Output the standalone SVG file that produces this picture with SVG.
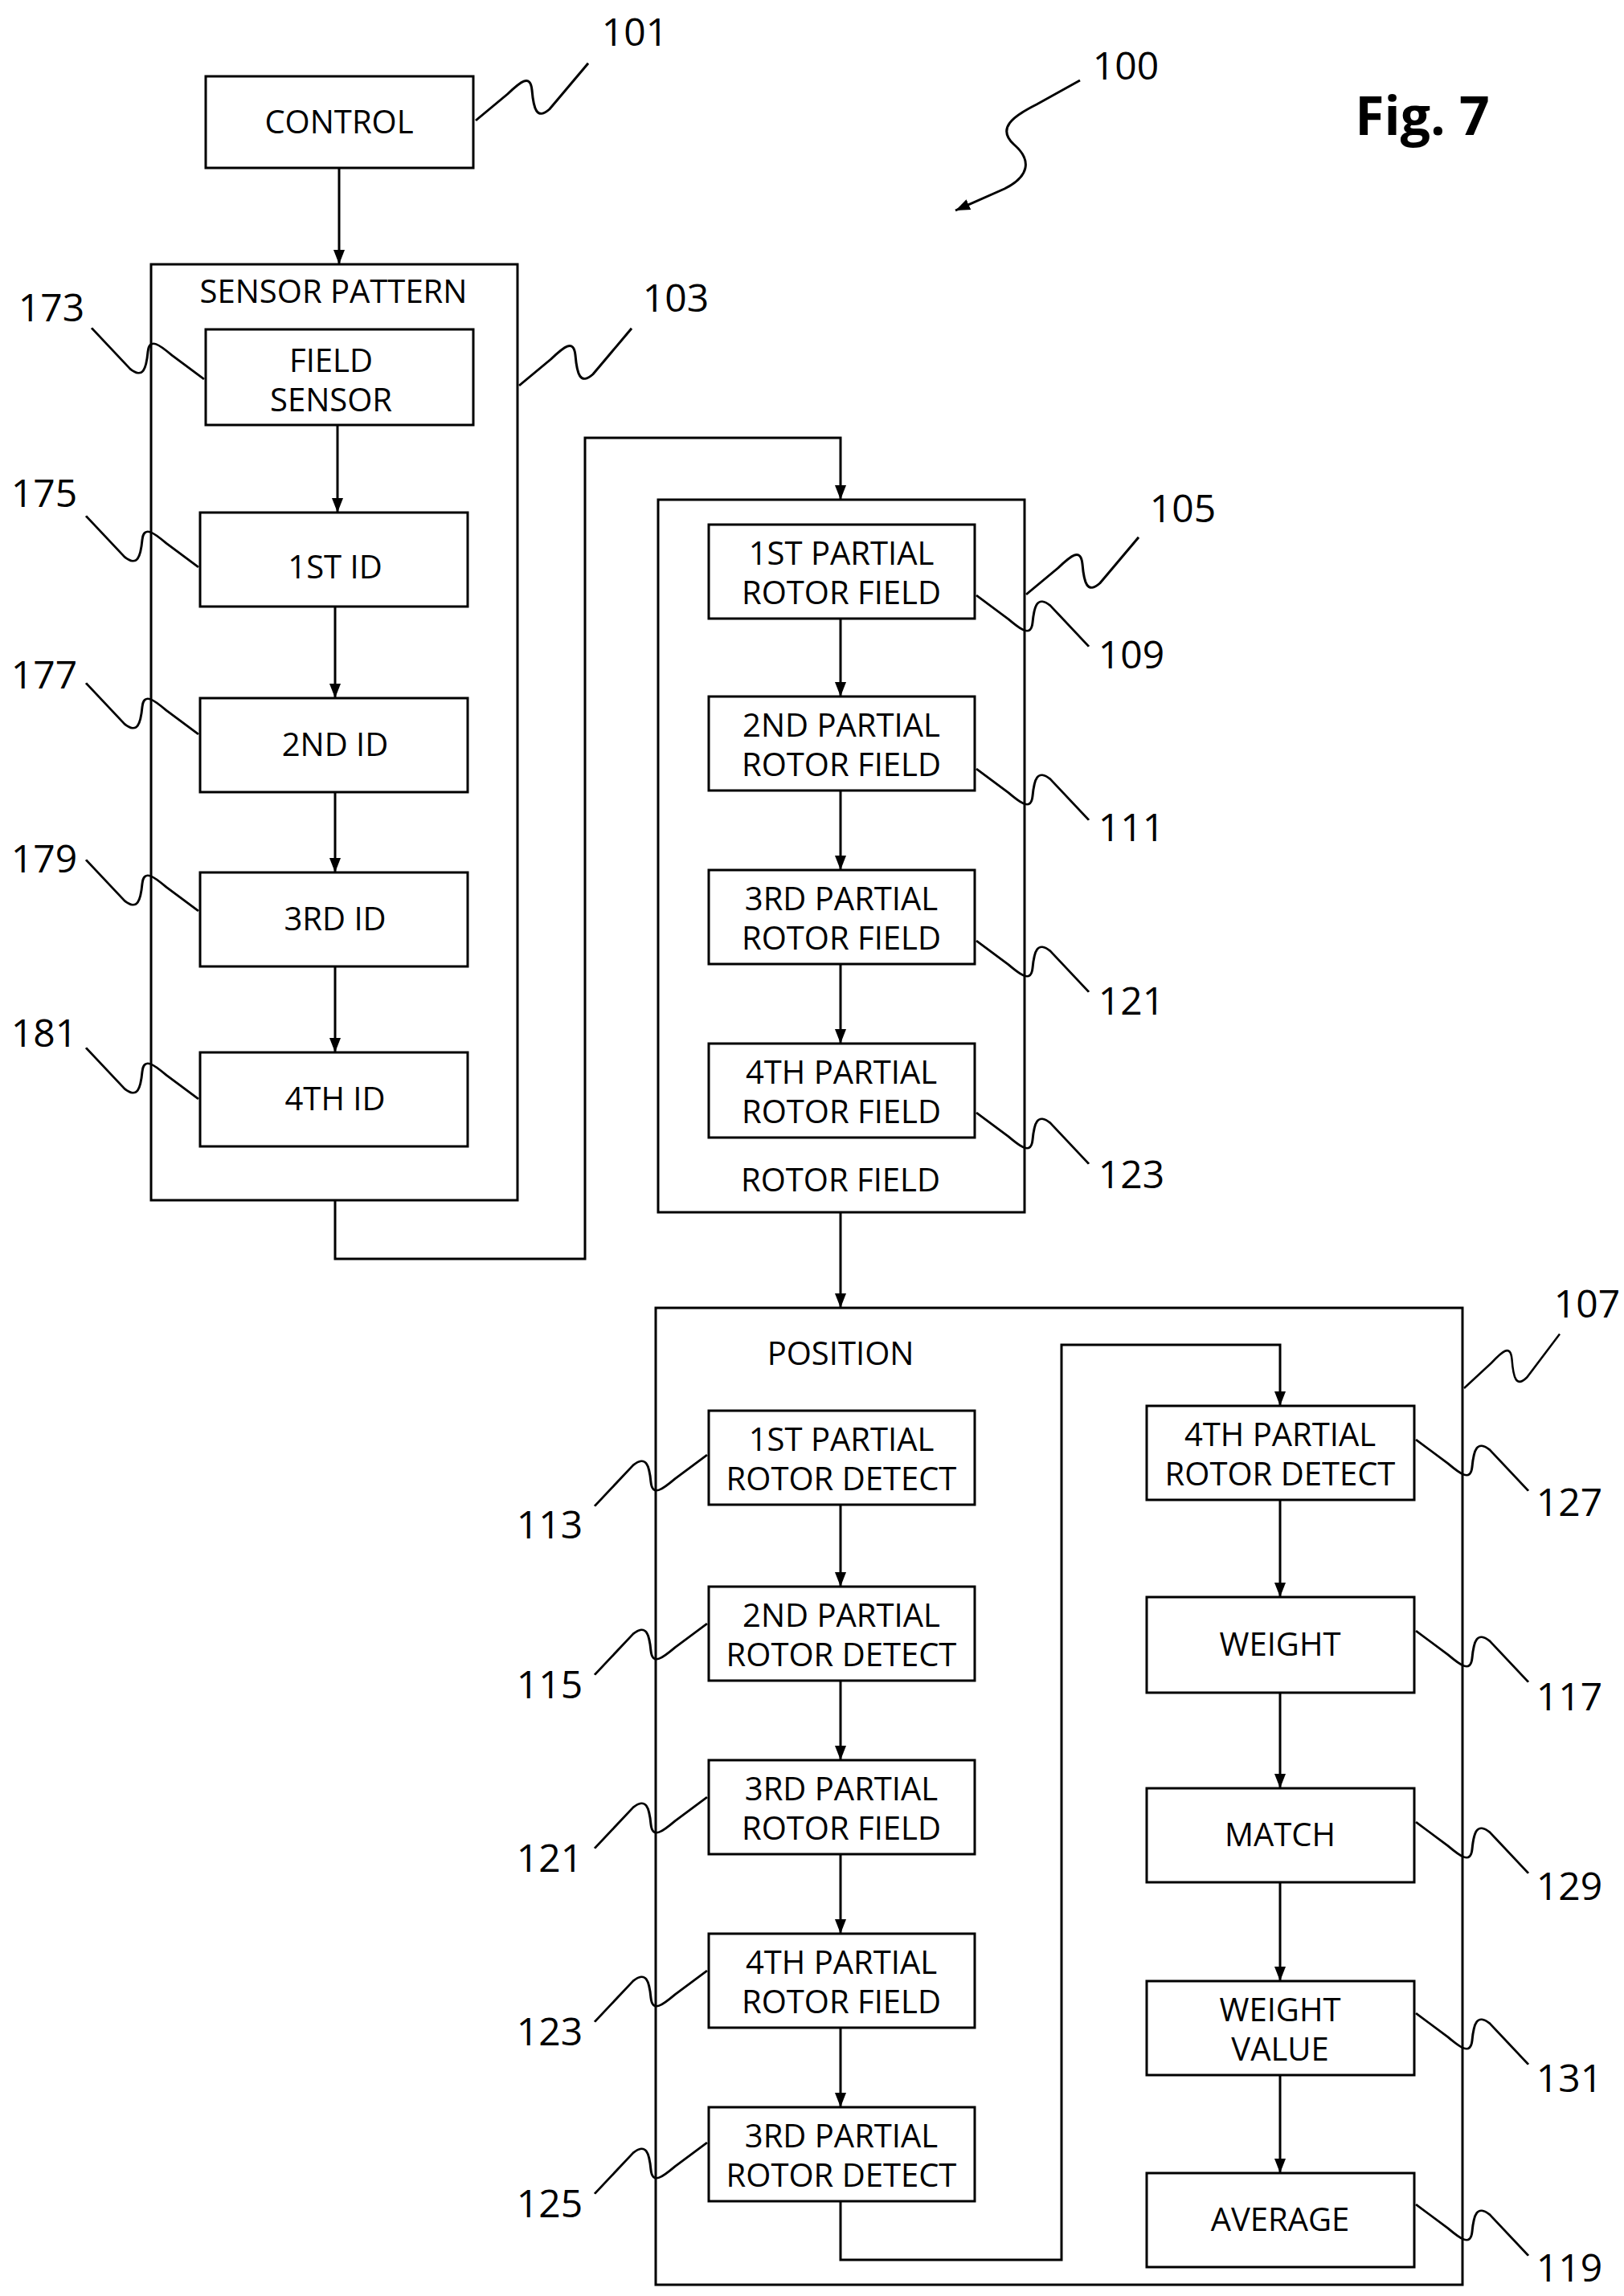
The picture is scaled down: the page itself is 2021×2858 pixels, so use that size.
<svg xmlns="http://www.w3.org/2000/svg" xmlns:xlink="http://www.w3.org/1999/xlink" width="2021" height="2858" viewBox="0 0 2021 2858">
<style>
.b{fill:#fff;stroke:#000;stroke-width:3}
.t{font-family:"Open Sans","Liberation Sans",sans-serif;font-size:40px;text-anchor:middle;fill:#000}
.n{font-family:"Open Sans","Liberation Sans",sans-serif;font-size:48px;text-anchor:middle;fill:#000}
.c{fill:none;stroke:#000;stroke-width:3}
.s{fill:none;stroke:#000;stroke-width:3}
</style>
<defs>
<marker id="ah" markerWidth="20" markerHeight="20" refX="18" refY="10" orient="auto" markerUnits="userSpaceOnUse"><path d="M0,3 L18,10 L0,17 z" fill="#000"/></marker>
<path id="sq" d="M0,0 L40,-35 C55,-50 68,-62 70,-40 C72,-15 76,0 92,-15 L140,-75"/>
</defs>
<text x="1770" y="168" style="font-family:'Open Sans','Liberation Sans',sans-serif;font-size:66px;font-weight:bold;text-anchor:middle">Fig. 7</text>
<g id="n101"><rect class="b" x="256" y="95" width="333" height="114"/><text class="t" x="422" y="166">CONTROL</text></g>
<g id="n103"><rect class="b" x="188" y="329" width="456" height="1165"/><text class="t" x="415" y="377">SENSOR PATTERN</text></g>
<g id="n173"><rect class="b" x="256" y="410" width="333" height="119"/><text class="t" x="412" y="463">FIELD</text><text class="t" x="412" y="512">SENSOR</text></g>
<g id="n175"><rect class="b" x="249" y="638" width="333" height="117"/><text class="t" x="417" y="720">1ST ID</text></g>
<g id="n177"><rect class="b" x="249" y="869" width="333" height="117"/><text class="t" x="417" y="941">2ND ID</text></g>
<g id="n179"><rect class="b" x="249" y="1086" width="333" height="117"/><text class="t" x="417" y="1158">3RD ID</text></g>
<g id="n181"><rect class="b" x="249" y="1310" width="333" height="117"/><text class="t" x="417" y="1382">4TH ID</text></g>
<g id="n105"><rect class="b" x="819" y="622" width="456" height="887"/><text class="t" x="1046" y="1483">ROTOR FIELD</text></g>
<g id="n109"><rect class="b" x="882" y="653" width="331" height="117"/><text class="t" x="1047" y="703">1ST PARTIAL</text><text class="t" x="1047" y="752">ROTOR FIELD</text></g>
<g id="n111"><rect class="b" x="882" y="867" width="331" height="117"/><text class="t" x="1047" y="917">2ND PARTIAL</text><text class="t" x="1047" y="966">ROTOR FIELD</text></g>
<g id="n121a"><rect class="b" x="882" y="1083" width="331" height="117"/><text class="t" x="1047" y="1133">3RD PARTIAL</text><text class="t" x="1047" y="1182">ROTOR FIELD</text></g>
<g id="n123a"><rect class="b" x="882" y="1299" width="331" height="117"/><text class="t" x="1047" y="1349">4TH PARTIAL</text><text class="t" x="1047" y="1398">ROTOR FIELD</text></g>
<g id="n107"><rect class="b" x="816" y="1628" width="1004" height="1216"/><text class="t" x="1046" y="1699">POSITION</text></g>
<g id="n113"><rect class="b" x="882" y="1756" width="331" height="117"/><text class="t" x="1047" y="1806">1ST PARTIAL</text><text class="t" x="1047" y="1855">ROTOR DETECT</text></g>
<g id="n115"><rect class="b" x="882" y="1975" width="331" height="117"/><text class="t" x="1047" y="2025">2ND PARTIAL</text><text class="t" x="1047" y="2074">ROTOR DETECT</text></g>
<g id="n121b"><rect class="b" x="882" y="2191" width="331" height="117"/><text class="t" x="1047" y="2241">3RD PARTIAL</text><text class="t" x="1047" y="2290">ROTOR FIELD</text></g>
<g id="n123b"><rect class="b" x="882" y="2407" width="331" height="117"/><text class="t" x="1047" y="2457">4TH PARTIAL</text><text class="t" x="1047" y="2506">ROTOR FIELD</text></g>
<g id="n125"><rect class="b" x="882" y="2623" width="331" height="117"/><text class="t" x="1047" y="2673">3RD PARTIAL</text><text class="t" x="1047" y="2722">ROTOR DETECT</text></g>
<g id="n127"><rect class="b" x="1427" y="1750" width="333" height="117"/><text class="t" x="1593" y="1800">4TH PARTIAL</text><text class="t" x="1593" y="1849">ROTOR DETECT</text></g>
<g id="n117"><rect class="b" x="1427" y="1988" width="333" height="119"/><text class="t" x="1593" y="2061">WEIGHT</text></g>
<g id="n129"><rect class="b" x="1427" y="2226" width="333" height="117"/><text class="t" x="1593" y="2298">MATCH</text></g>
<g id="n131"><rect class="b" x="1427" y="2466" width="333" height="117"/><text class="t" x="1593" y="2516">WEIGHT</text><text class="t" x="1593" y="2565">VALUE</text></g>
<g id="n119"><rect class="b" x="1427" y="2705" width="333" height="117"/><text class="t" x="1593" y="2777">AVERAGE</text></g>
<g id="connectors" class="c">
<path marker-end="url(#ah)" d="M422,209 V329"/>
<path marker-end="url(#ah)" d="M420,529 V638"/>
<path marker-end="url(#ah)" d="M417,755 V869"/>
<path marker-end="url(#ah)" d="M417,986 V1086"/>
<path marker-end="url(#ah)" d="M417,1203 V1310"/>
<path marker-end="url(#ah)" d="M417,1494 V1567 H728 V545 H1046 V622"/>
<path marker-end="url(#ah)" d="M1046,770 V867"/>
<path marker-end="url(#ah)" d="M1046,984 V1083"/>
<path marker-end="url(#ah)" d="M1046,1200 V1299"/>
<path marker-end="url(#ah)" d="M1046,1509 V1628"/>
<path marker-end="url(#ah)" d="M1046,1873 V1975"/>
<path marker-end="url(#ah)" d="M1046,2092 V2191"/>
<path marker-end="url(#ah)" d="M1046,2308 V2407"/>
<path marker-end="url(#ah)" d="M1046,2524 V2623"/>
<path marker-end="url(#ah)" d="M1046,2740 V2813 H1321 V1674 H1593 V1750"/>
<path marker-end="url(#ah)" d="M1593,1867 V1988"/>
<path marker-end="url(#ah)" d="M1593,2107 V2226"/>
<path marker-end="url(#ah)" d="M1593,2343 V2466"/>
<path marker-end="url(#ah)" d="M1593,2583 V2705"/>
</g>
<g id="labels" class="s">
<use xlink:href="#sq" transform="translate(592,150) scale(1,0.95)"/>
<use xlink:href="#sq" transform="translate(646,480) scale(1,0.95)"/>
<use xlink:href="#sq" transform="translate(1277,740) scale(1,0.95)"/>
<use xlink:href="#sq" transform="translate(1822,1728) scale(0.85,0.9)"/>
<path marker-end="url(#ah)" d="M1344,100 L1290,130 C1260,145 1240,160 1262,180 C1285,200 1280,220 1250,235 L1189,262"/>
<use xlink:href="#sq" transform="translate(254,472) scale(-1,0.85)"/>
<use xlink:href="#sq" transform="translate(247,706) scale(-1,0.85)"/>
<use xlink:href="#sq" transform="translate(247,914) scale(-1,0.85)"/>
<use xlink:href="#sq" transform="translate(247,1134) scale(-1,0.85)"/>
<use xlink:href="#sq" transform="translate(247,1368) scale(-1,0.85)"/>
<use xlink:href="#sq" transform="translate(1215,741) scale(1,-0.85)"/>
<use xlink:href="#sq" transform="translate(1215,957) scale(1,-0.85)"/>
<use xlink:href="#sq" transform="translate(1215,1171) scale(1,-0.85)"/>
<use xlink:href="#sq" transform="translate(1215,1385) scale(1,-0.85)"/>
<use xlink:href="#sq" transform="translate(880,1811) scale(-1,-0.85)"/>
<use xlink:href="#sq" transform="translate(880,2021) scale(-1,-0.85)"/>
<use xlink:href="#sq" transform="translate(880,2237) scale(-1,-0.85)"/>
<use xlink:href="#sq" transform="translate(880,2453) scale(-1,-0.85)"/>
<use xlink:href="#sq" transform="translate(880,2667) scale(-1,-0.85)"/>
<use xlink:href="#sq" transform="translate(1762,1792) scale(1,-0.85)"/>
<use xlink:href="#sq" transform="translate(1762,2030) scale(1,-0.85)"/>
<use xlink:href="#sq" transform="translate(1762,2268) scale(1,-0.85)"/>
<use xlink:href="#sq" transform="translate(1762,2506) scale(1,-0.85)"/>
<use xlink:href="#sq" transform="translate(1762,2744) scale(1,-0.85)"/>
</g>
<g id="numbers">
<text class="n" x="790" y="57">101</text>
<text class="n" x="1401" y="99">100</text>
<text class="n" x="841" y="388">103</text>
<text class="n" x="1472" y="650">105</text>
<text class="n" x="1975" y="1640">107</text>
<text class="n" x="64" y="400">173</text>
<text class="n" x="55" y="631">175</text>
<text class="n" x="55" y="857">177</text>
<text class="n" x="55" y="1086">179</text>
<text class="n" x="55" y="1303">181</text>
<text class="n" x="1408" y="832">109</text>
<text class="n" x="1408" y="1047">111</text>
<text class="n" x="1408" y="1263">121</text>
<text class="n" x="1408" y="1479">123</text>
<text class="n" x="684" y="1915">113</text>
<text class="n" x="684" y="2114">115</text>
<text class="n" x="684" y="2330">121</text>
<text class="n" x="684" y="2546">123</text>
<text class="n" x="684" y="2760">125</text>
<text class="n" x="1953" y="1887">127</text>
<text class="n" x="1953" y="2129">117</text>
<text class="n" x="1953" y="2365">129</text>
<text class="n" x="1953" y="2604">131</text>
<text class="n" x="1953" y="2840">119</text>
</g>
</svg>
